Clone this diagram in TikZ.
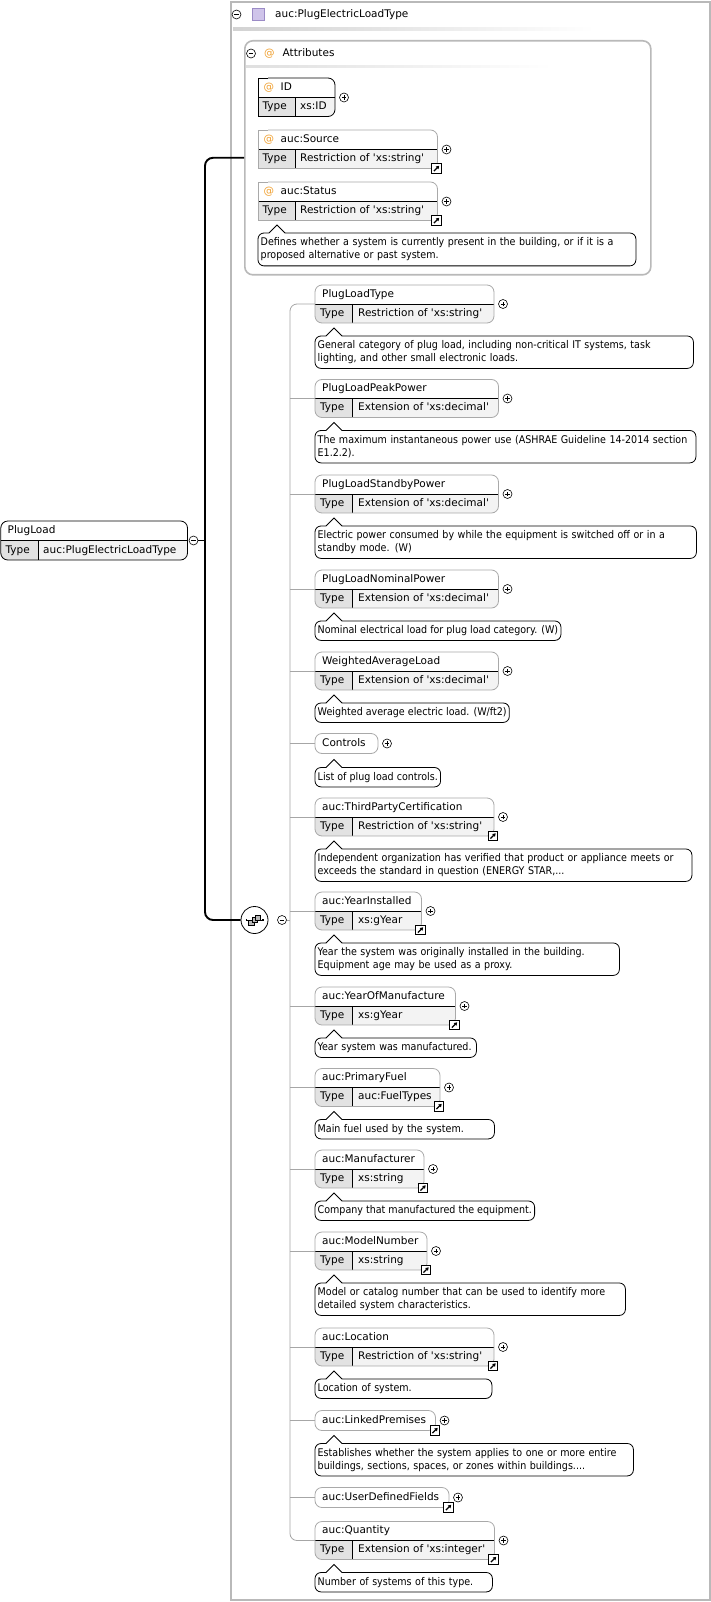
\documentclass[tikz,border=0pt]{standalone}
\usepackage{fontspec}
\setmainfont{DejaVu Sans}[Ligatures=TeXOff]
\newfontfamily\docfont{DejaVu Sans Condensed}[Ligatures=TeXOff]
\usetikzlibrary{arrows.meta}

\definecolor{boxgrey}{HTML}{A9A9A9}
\definecolor{typecell}{HTML}{E2E2E2}
\definecolor{valcell}{HTML}{F3F3F3}
\definecolor{framegrey}{HTML}{B9B9B9}
\definecolor{treegrey}{HTML}{A6A6A6}
\definecolor{attrorange}{HTML}{F0A030}
\definecolor{lavender}{HTML}{CFC4EA}
\definecolor{lavedge}{HTML}{9B8BC6}

\tikzset{
  lbl/.style={font=\fontsize{10.5}{12}\selectfont, inner sep=0pt, anchor=west, text height=7.6pt, text depth=2.2pt},
  doctext/.style={font=\docfont\fontsize{10.6}{12.8}\selectfont, align=left, inner xsep=2.5pt, inner ysep=0pt, anchor=north west},
  boxline/.style={line width=0.8pt},
  treeline/.style={draw=treegrey, line width=0.8pt},
  hubline/.style={line width=1.9pt, rounded corners=8pt},
  markcircle/.style={circle, draw, line width=0.6pt, fill=white, minimum size=9pt, inner sep=0pt},
}

% small expand / collapse marks
\newcommand\plusmark[2]{%
  \node[markcircle] (#1) at (#2) {};
  \draw[line width=0.6pt] ([xshift=-2.4pt]#1.center) -- ([xshift=2.4pt]#1.center)
    ([yshift=-2.4pt]#1.center) -- ([yshift=2.4pt]#1.center);
}
\newcommand\minusmark[2]{%
  \node[markcircle] (#1) at (#2) {};
  \draw[line width=0.6pt] ([xshift=-2.4pt]#1.center) -- ([xshift=2.4pt]#1.center);
}
% reference-to-type marker
\newcommand\linkmark[2]{%
  \node[draw, line width=0.7pt, fill=white, minimum size=9.5pt, inner sep=0pt] (#1) at (#2) {};
  \draw[line width=1.3pt, -{Triangle[length=3pt,width=3.6pt]}]
    ([shift={(-2.6pt,-2.6pt)}]#1.center) -- ([shift={(2.7pt,2.7pt)}]#1.center);
}
% element with a name row and a type row: id, top, right, name, type
\newcommand\elemtwo[5]{%
  \pgfmathsetmacro\bT{#2}%
  \pgfmathsetmacro\bD{#2+19}%
  \pgfmathsetmacro\bB{#2+38}%
  \begin{scope}
    \clip[rounded corners=7pt] (315,\bT) rectangle (#3,\bB);
    \fill[white] (315,\bT) rectangle (#3,\bD);
    \fill[typecell] (315,\bD) rectangle (352.5,\bB);
    \fill[valcell] (352.5,\bD) rectangle (#3,\bB);
  \end{scope}
  \draw[boxline] (315,\bD) -- (#3,\bD) (352.5,\bD) -- (352.5,\bB);
  \draw[boxline, draw=boxgrey, rounded corners=7pt] (315,\bT) rectangle (#3,\bB);
  \node[lbl] (#1) at (322,\bT+9.5) {#4};
  \node[lbl] (#1-t) at (320,\bB-9.5) {Type};
  \node[lbl] (#1-v) at (358,\bB-9.5) {#5};
  \coordinate (#1-in) at (315,\bD);
  \plusmark{#1-p}{#3+9,\bD}
}
% element with a name row only: id, top, right, name
\newcommand\elemone[4]{%
  \pgfmathsetmacro\bT{#2}%
  \draw[boxline, draw=boxgrey, fill=white, rounded corners=7pt] (315,\bT) rectangle (#3,\bT+20);
  \node[lbl] (#1) at (322,\bT+10) {#4};
  \coordinate (#1-in) at (315,\bT+10);
  \plusmark{#1-p}{#3+9,\bT+10}
}
% documentation callout: id, left, top, height, extra node options, text
\newcommand\docnote[6]{%
  \node[doctext, minimum height=#4pt, #5] (#1) at (#2,#3) {#6};
  \draw[boxline, rounded corners=6pt] ([xshift=27pt]#1.north west) -- (#1.north east)
    -- (#1.south east) -- (#1.south west) -- (#1.north west) -- ([xshift=11pt]#1.north west);
  \draw[boxline] ([xshift=11pt]#1.north west) -- ([shift={(19pt,8pt)}]#1.north west)
    -- ([xshift=27pt]#1.north west);
}
% attribute box: id, top, right, name, type, border colour
\newcommand\attrbox[6]{%
  \pgfmathsetmacro\bT{#2}%
  \pgfmathsetmacro\bD{#2+19.5}%
  \pgfmathsetmacro\bB{#2+38.5}%
  \fill[white, rounded corners=7pt] (258,\bT) rectangle (#3,\bB);
  \fill[white] (258,\bT) rectangle (268,\bD);
  \begin{scope}
    \clip[rounded corners=7pt] (258,\bT) rectangle (#3,\bB);
    \fill[valcell] (295,\bD) rectangle (#3,\bB);
  \end{scope}
  \fill[typecell] (258,\bD) rectangle (295,\bB);
  \draw[boxline] (258,\bD) -- (#3,\bD) (295,\bD) -- (295,\bB);
  \draw[boxline, draw=#6] (268,\bT) -- (258,\bT) -- (258,\bB) -- (268,\bB);
  \draw[boxline, draw=#6, rounded corners=7pt] (268,\bT) -- (#3,\bT) -- (#3,\bB) -- (268,\bB);
  \node[lbl, text=attrorange] (#1-at) at (263.5,\bT+9.5) {@};
  \node[lbl] (#1) at (280.5,\bT+9.5) {#4};
  \node[lbl] (#1-t) at (262.5,\bB-9.5) {Type};
  \node[lbl] (#1-v) at (300,\bB-9.5) {#5};
  \plusmark{#1-p}{#3+9,\bD}
}

\begin{document}
\begin{tikzpicture}[x=1pt, y=-1pt]
\fill[white] (0,0) rectangle (711,1602);
\useasboundingbox (0,0) rectangle (711,1602);

% ---------- complex type frame ----------
\node[draw=framegrey, line width=1.6pt, minimum width=479pt, minimum height=1598pt,
      inner sep=0pt, anchor=north west] (typebox) at (230,1) {};
\minusmark{hdrminus}{236.5,14.5}
\node[draw=lavedge, fill=lavender, line width=0.6pt, minimum size=11.5pt, inner sep=0pt] (hdricon) at (258.5,14.5) {};
\node[lbl] (hdr) at (275,14.5) {auc:PlugElectricLoadType};
\shade[left color=gray!35, middle color=gray!50, right color=white] (233,28) rectangle (595,30.5);

% ---------- attributes group ----------
\node[draw=framegrey, line width=1.6pt, rounded corners=8pt, minimum width=406pt, minimum height=234pt,
      inner sep=0pt, anchor=north west] (attrs) at (244,40) {};
\minusmark{attminus}{251,53.5}
\node[lbl, text=attrorange] (atticon) at (264,53.5) {@};
\node[lbl] (atttitle) at (282.5,53.5) {Attributes};
\shade[left color=gray!25, middle color=gray!35, right color=white] (246,65.5) rectangle (552,67.8);

\attrbox{aid}{78}{335}{ID}{xs:ID}{black}
\attrbox{asrc}{130}{437.5}{auc:Source}{Restriction of 'xs:string'}{boxgrey}
\linkmark{asrc-l}{436.5,168.5}
\attrbox{asts}{182}{437.5}{auc:Status}{Restriction of 'xs:string'}{boxgrey}
\linkmark{asts-l}{436.5,220.5}
\docnote{asts-d}{258}{233}{32.5}{text width=372.5pt}{Defines whether a system is currently present in the building, or if it is a\\proposed alternative or past system.}

% ---------- the PlugLoad element ----------
\begin{scope}
  \clip[rounded corners=7pt] (0.8,521) rectangle (187.5,560);
  \fill[white] (0.8,521) rectangle (187.5,540.5);
  \fill[typecell] (0.8,540.5) rectangle (38.5,560);
  \fill[valcell] (38.5,540.5) rectangle (187.5,560);
\end{scope}
\draw[boxline] (0.8,540.5) -- (187.5,540.5) (38.5,540.5) -- (38.5,560);
\draw[boxline, rounded corners=7pt] (0.8,521) rectangle (187.5,560);
\node[lbl] (plug) at (7.5,530.8) {PlugLoad};
\node[lbl] (plug-t) at (5.5,550.3) {Type};
\node[lbl] (plug-v) at (43,550.3) {auc:PlugElectricLoadType};
\minusmark{plugminus}{193.5,540.5}

% ---------- sequence compositor ----------
\node[circle, draw, line width=0.8pt, fill=white, minimum size=27pt, inner sep=0pt] (comp) at (254.5,920) {};
\draw[line width=0.7pt] ([xshift=-8pt]comp.center) -- ([xshift=8pt]comp.center);
\fill ([shift={(-9pt,-0.9pt)}]comp.center) rectangle ++(1.8pt,1.8pt);
\fill ([shift={(7.2pt,-0.9pt)}]comp.center) rectangle ++(1.8pt,1.8pt);
\foreach \dx/\dy in {-3.2/-2.4, 0/0, 3.2/2.4}
  \draw[fill=gray!55, line width=0.45pt] ([shift={(\dx pt-2.6pt,\dy pt-2.6pt)}]comp.center) rectangle ++(5.2pt,5.2pt);
\minusmark{compminus}{282,920}

% ---------- main connector ----------
\coordinate (jn) at (205,540.5);
\draw[line width=1.9pt] (plugminus.east) -- (jn);
\draw[hubline] (attrs.west) -| (jn) |- (comp.west);

% ---------- sequence children ----------
\elemtwo{c1}{285}{494}{PlugLoadType}{Restriction of 'xs:string'}
\docnote{d1}{315}{336}{32}{text width=373pt}{General category of plug load, including non-critical IT systems, task\\lighting, and other small electronic loads.}
\elemtwo{c2}{379.5}{498.5}{PlugLoadPeakPower}{Extension of 'xs:decimal'}
\docnote{d2}{315}{430.5}{32}{text width=375.5pt}{The maximum instantaneous power use (ASHRAE Guideline 14-2014 section\\E1.2.2).}
\elemtwo{c3}{475}{498.5}{PlugLoadStandbyPower}{Extension of 'xs:decimal'}
\docnote{d3}{315}{526}{32}{text width=376pt}{Electric power consumed by while the equipment is switched off or in a\\standby mode. (W)}
\elemtwo{c4}{570}{498.5}{PlugLoadNominalPower}{Extension of 'xs:decimal'}
\docnote{d4}{315}{621}{19}{}{Nominal electrical load for plug load category. (W)}
\elemtwo{c5}{652}{498.5}{WeightedAverageLoad}{Extension of 'xs:decimal'}
\docnote{d5}{315}{703}{19}{}{Weighted average electric load. (W/ft2)}
\elemone{c6}{733.5}{378}{Controls}
\docnote{d6}{315}{767.5}{19}{}{List of plug load controls.}
\elemtwo{c7}{798}{494}{auc:ThirdPartyCertification}{Restriction of 'xs:string'}
\linkmark{c7-l}{493,836}
\docnote{d7}{315}{849}{32}{text width=371.5pt}{Independent organization has verified that product or appliance meets or\\exceeds the standard in question (ENERGY STAR,...}
\elemtwo{c8}{892}{421.5}{auc:YearInstalled}{xs:gYear}
\linkmark{c8-l}{420.5,930}
\docnote{d8}{315}{943}{32}{text width=299pt}{Year the system was originally installed in the building.\\Equipment age may be used as a proxy.}
\elemtwo{c9}{987}{455.5}{auc:YearOfManufacture}{xs:gYear}
\linkmark{c9-l}{454.5,1025}
\docnote{d9}{315}{1038}{19}{text width=156pt}{Year system was manufactured.}
\elemtwo{c10}{1068.5}{440}{auc:PrimaryFuel}{auc:FuelTypes}
\linkmark{c10-l}{439,1106.5}
\docnote{d10}{315}{1119.5}{19}{text width=174pt}{Main fuel used by the system.}
\elemtwo{c11}{1150}{424}{auc:Manufacturer}{xs:string}
\linkmark{c11-l}{423,1188}
\docnote{d11}{315}{1201}{19}{}{Company that manufactured the equipment.}
\elemtwo{c12}{1232}{427}{auc:ModelNumber}{xs:string}
\linkmark{c12-l}{426,1270}
\docnote{d12}{315}{1283}{32}{text width=305pt}{Model or catalog number that can be used to identify more\\detailed system characteristics.}
\elemtwo{c13}{1328}{494}{auc:Location}{Restriction of 'xs:string'}
\linkmark{c13-l}{493,1366}
\docnote{d13}{315}{1379}{19}{text width=171.5pt}{Location of system.}
\elemone{c14}{1410.5}{435.5}{auc:LinkedPremises}
\linkmark{c14-l}{435,1430.5}
\docnote{d14}{315}{1443.5}{32}{text width=313pt}{Establishes whether the system applies to one or more entire\\buildings, sections, spaces, or zones within buildings....}
\elemone{c15}{1487.5}{449}{auc:UserDefinedFields}
\linkmark{c15-l}{448.5,1507.5}
\elemtwo{c16}{1521.5}{494.5}{auc:Quantity}{Extension of 'xs:integer'}
\linkmark{c16-l}{493.5,1559.5}
\docnote{d16}{315}{1572.5}{19}{text width=172pt}{Number of systems of this type.}

% ---------- sequence tree ----------
\coordinate (tr) at (290,920);
\draw[treeline, rounded corners=7pt] (c1-in) -| (tr) |- (c16-in);
\foreach \i in {2,...,15}
  \draw[treeline] (c\i-in -| tr) -- (c\i-in);
\draw[treeline] (compminus.east) -- (compminus.east -| tr);
\end{tikzpicture}
\end{document}
